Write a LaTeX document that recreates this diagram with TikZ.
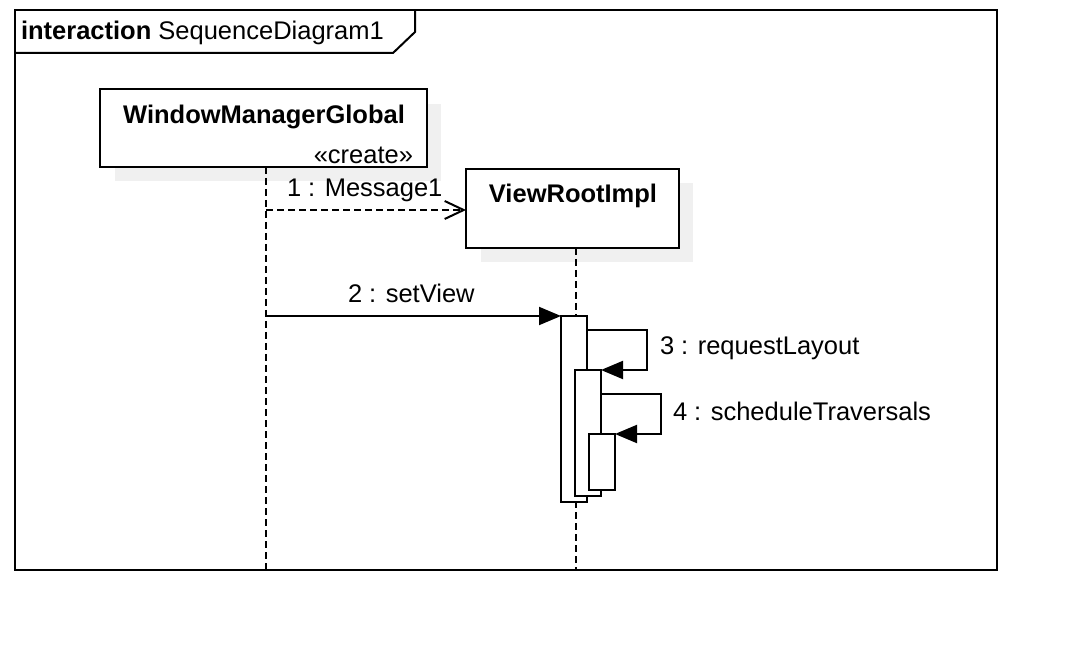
\documentclass[tikz,border=0pt]{standalone}
\usepackage{fontspec}
\setmainfont{Liberation Sans}
\usetikzlibrary{arrows.meta}
\begin{document}
\begin{tikzpicture}[x=1pt,y=-1pt,
  every node/.style={font=\fontsize{25.5}{30}\selectfont, inner sep=0pt, outer sep=0pt},
  ln/.style={line width=2pt},
  lifeline/.style={line width=2pt, dash pattern=on 7pt off 4pt},
  shadowfill/.style={fill=black!6, draw=none},
  objbox/.style={draw, line width=2pt, fill=white, anchor=north west},
  actbox/.style={draw, line width=2pt, fill=white, anchor=north west, minimum width=26pt},
  syncmsg/.style={line width=2pt, -{Triangle[length=22pt,width=18pt]}},
  createmsg/.style={line width=2pt, dash pattern=on 7pt off 4pt, -{Straight Barb[length=19pt,width=18pt]}},
  lbl/.style={anchor=base west}
]
\useasboundingbox (0,0) rectangle (1082,660);
\fill[white] (0,0) rectangle (1082,660);

% frame
\draw[ln] (15,10) rectangle (997,570);
\draw[ln] (15,53) -- (393,53) -- (415,32) -- (415,10);
\node[lbl] (title) at (21,40) {\textbf{interaction} SequenceDiagram1};

% shadows
\fill[shadowfill] (115,104) rectangle (441,181);
\fill[shadowfill] (481,183) rectangle (693,262);

% lifelines
\coordinate (wmgtop) at (266,167);
\coordinate (wmgbot) at (266,570);
\coordinate (vritop) at (576,248);
\coordinate (vribot) at (576,570);
\draw[lifeline] (wmgtop) -- (wmgbot);
\draw[lifeline] (vritop) -- (vribot);

% objects
\node[objbox, minimum width=327pt, minimum height=78pt] (wmg) at (100,89) {};
\node[anchor=base] (wmgname) at (264,124) {\textbf{WindowManagerGlobal}};
\node[anchor=base east] (create) at (413,164) {«create»};

\node[objbox, minimum width=213pt, minimum height=79pt] (vri) at (466,169) {};
\node[anchor=base] (vriname) at (573,203) {\textbf{ViewRootImpl}};

% activations
\node[actbox, minimum height=186pt] (a1) at (561,316) {};
\node[actbox, minimum height=126pt] (a2) at (575,370) {};
\node[actbox, minimum height=56pt] (a3) at (589,434) {};

% messages
\coordinate (m1s) at (266,210);
\draw[createmsg] (m1s) -- (m1s -| vri.west);
\node[lbl] (m1l) at (287,197) {1 : Message1};

\coordinate (m2s) at (266,316);
\draw[syncmsg] (m2s) -- (a1.north west);
\node[lbl] (m2l) at (348,303) {2 : setView};

\draw[syncmsg] ([yshift=-14pt]a1.north east) -- ++(60,0) |- (a2.north east);
\node[lbl] (m3l) at (660,355) {3 : requestLayout};

\draw[syncmsg] ([yshift=-24pt]a2.north east) -- ++(60,0) |- (a3.north east);
\node[lbl] (m4l) at (673,420) {4 : scheduleTraversals};
\end{tikzpicture}
\end{document}
